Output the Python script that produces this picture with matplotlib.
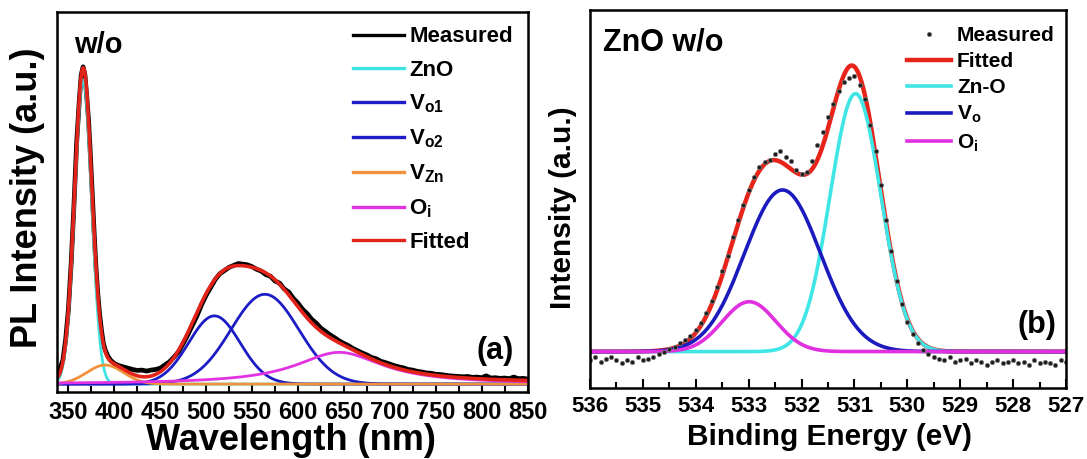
import numpy as np
import matplotlib
matplotlib.use("Agg")
import matplotlib.pyplot as plt
from matplotlib.ticker import MultipleLocator

plt.rcParams['font.family'] = ['Liberation Sans', 'DejaVu Sans']
plt.rcParams['font.weight'] = 'bold'
plt.rcParams['mathtext.fontset'] = 'custom'
plt.rcParams['mathtext.rm'] = 'Liberation Sans:bold'
plt.rcParams['mathtext.it'] = 'Liberation Sans:bold'
plt.rcParams['mathtext.bf'] = 'Liberation Sans:bold'

# ---- (a) PL spectrum (peak = 1) ----
pl_wl = [338, 341, 344, 347, 350, 353, 356, 359, 362, 364, 366, 368, 370, 372, 374,
         376, 378, 380, 382, 384, 386, 388, 390, 393, 396, 400, 405, 410, 415, 420,
         425, 430, 435, 440, 445, 450, 455, 460, 465, 470, 475, 480, 485, 490, 495,
         500, 505, 510, 515, 520, 525, 530, 535, 540, 545, 550, 555, 560, 565, 570,
         575, 580, 585, 590, 595, 600, 605, 610, 615, 620, 625, 630, 635, 640, 645,
         650, 655, 660, 665, 670, 675, 680, 685, 690, 695, 700, 705, 710, 715, 720,
         725, 730, 735, 740, 745, 750, 755, 760, 765, 770, 775, 780, 785, 790, 795,
         800, 805, 810, 815, 820, 825, 830, 835, 840, 845, 850]
pl_measured = [0.030, 0.050, 0.075, 0.140, 0.235, 0.380, 0.560, 0.760, 0.900, 0.975,
               1.000, 0.975, 0.905, 0.830, 0.720, 0.600, 0.480, 0.370, 0.285, 0.220,
               0.170, 0.130, 0.108, 0.088, 0.075, 0.065, 0.058, 0.054, 0.050, 0.046,
               0.043, 0.044, 0.041, 0.044, 0.046, 0.050, 0.060, 0.070, 0.085, 0.102,
               0.128, 0.155, 0.185, 0.215, 0.250, 0.280, 0.305, 0.330, 0.348, 0.358,
               0.368, 0.374, 0.380, 0.378, 0.376, 0.370, 0.362, 0.356, 0.345, 0.340,
               0.325, 0.318, 0.300, 0.290, 0.270, 0.255, 0.236, 0.222, 0.204, 0.192,
               0.176, 0.166, 0.155, 0.146, 0.136, 0.128, 0.121, 0.112, 0.105, 0.098,
               0.092, 0.084, 0.080, 0.072, 0.068, 0.063, 0.058, 0.054, 0.051, 0.046,
               0.044, 0.040, 0.038, 0.035, 0.034, 0.031, 0.030, 0.028, 0.026, 0.025,
               0.024, 0.023, 0.024, 0.021, 0.022, 0.020, 0.026, 0.019, 0.020, 0.018,
               0.019, 0.017, 0.022, 0.017, 0.018, 0.016]

pl_names = ['ZnO', 'V$_{o1}$', 'V$_{o2}$', 'V$_{Zn}$', 'O$_{i}$']
pl_centers = [366, 509, 564, 390, 645]
pl_heights = [0.96, 0.215, 0.283, 0.06, 0.10]
pl_widths = [9.3, 28, 37, 20, 58]
pl_shapes = ['gauss', 'gauss', 'gauss', 'gauss', 'lorentz']
pl_colors = ['#3fe3e3', '#1d1dc6', '#1d1dc6', '#f0923c', '#e233e2']
pl_offset = 0.004

# ---- (b) O 1s XPS (fit peak = 1) ----
xps_be = [536.0, 535.9, 535.8, 535.7, 535.6, 535.5, 535.4, 535.3, 535.2, 535.1,
          535.0, 534.9, 534.8, 534.7, 534.6, 534.5, 534.4, 534.3, 534.2, 534.1,
          534.0, 533.9, 533.8, 533.7, 533.6, 533.5, 533.4, 533.3, 533.2, 533.1,
          533.0, 532.9, 532.8, 532.7, 532.6, 532.5, 532.4, 532.3, 532.2, 532.1,
          532.0, 531.9, 531.8, 531.7, 531.6, 531.5, 531.4, 531.3, 531.2, 531.1,
          531.0, 530.9, 530.8, 530.7, 530.6, 530.5, 530.4, 530.3, 530.2, 530.1,
          530.0, 529.9, 529.8, 529.7, 529.6, 529.5, 529.4, 529.3, 529.2, 529.1,
          529.0, 528.9, 528.8, 528.7, 528.6, 528.5, 528.4, 528.3, 528.2, 528.1,
          528.0, 527.9, 527.8, 527.7, 527.6, 527.5, 527.4, 527.3, 527.2, 527.1, 527.0]
xps_measured = [-0.030, -0.020, -0.035, -0.025, -0.020, -0.030, -0.040, -0.030, -0.035, -0.020,
                -0.030, -0.025, -0.020, -0.010, 0.000, 0.010, 0.015, 0.030, 0.040, 0.055,
                0.075, 0.100, 0.135, 0.175, 0.225, 0.280, 0.335, 0.400, 0.460, 0.510,
                0.565, 0.610, 0.645, 0.660, 0.670, 0.690, 0.700, 0.680, 0.665, 0.635,
                0.620, 0.625, 0.665, 0.720, 0.765, 0.820, 0.865, 0.910, 0.940, 0.955,
                0.960, 0.930, 0.880, 0.790, 0.700, 0.580, 0.460, 0.350, 0.245, 0.165,
                0.105, 0.060, 0.030, 0.005, -0.010, -0.020, -0.025, -0.030, -0.020, -0.035,
                -0.030, -0.025, -0.040, -0.030, -0.035, -0.045, -0.035, -0.030, -0.040, -0.035,
                -0.030, -0.040, -0.035, -0.045, -0.030, -0.040, -0.035, -0.040, -0.045, -0.030, -0.035]

xps_names = ['Zn-O', 'V$_o$', 'O$_i$']
xps_centers = [530.98, 532.36, 532.99]
xps_heights = [0.90, 0.564, 0.174]
xps_widths = [0.48, 0.72, 0.505]
xps_colors = ['#40e6e6', '#1a1abf', '#e030e0']


def peak(x, c, a, w, shape='gauss'):
    if shape == 'lorentz':
        return a * w ** 2 / ((x - c) ** 2 + w ** 2)
    return a * np.exp(-(x - c) ** 2 / (2 * w ** 2))


def style_axis(ax, labelsize, pad):
    for sp in ax.spines.values():
        sp.set_linewidth(1.8)
    ax.set_yticks([])
    ax.tick_params(axis='x', which='major', direction='in', length=6.5, width=1.5,
                   labelsize=labelsize, pad=pad, top=False)
    ax.tick_params(axis='x', which='minor', direction='in', length=4, width=1.5, top=False)


fig = plt.figure(figsize=(10.87, 4.59), dpi=100)

# ---------- panel (a) ----------
ax1 = fig.add_axes([57 / 1087, 1 - 392 / 459, 471 / 1087, 380 / 459])
x1 = np.linspace(337, 852, 1200)
ax1.plot(pl_wl, pl_measured, color='black', lw=3.4, label='Measured')
total1 = np.full_like(x1, pl_offset)
for name, c, a, w, s, col in zip(pl_names, pl_centers, pl_heights, pl_widths, pl_shapes, pl_colors):
    y = peak(x1, c, a, w, s)
    total1 += y
    ax1.plot(x1, y, color=col, lw=2.0, label=name)
ax1.plot(x1, total1, color='#e2231a', lw=2.6, label='Fitted')

ax1.set_xlim(337.6, 850.5)
ax1.set_ylim(-0.025, 1.173)
ax1.xaxis.set_major_locator(MultipleLocator(50))
ax1.xaxis.set_minor_locator(MultipleLocator(25))
style_axis(ax1, 17, 6.5)
ax1.set_xlabel('Wavelength (nm)', fontsize=26, fontweight='bold')
ax1.xaxis.set_label_coords(0.497, -0.082)
ax1.set_ylabel('PL Intensity (a.u.)', fontsize=26, fontweight='bold')
ax1.yaxis.set_label_coords(-0.025, 0.51)
ax1.text(0.036, 0.913, 'w/o', transform=ax1.transAxes, fontsize=21, fontweight='bold',
         va='center', ha='left')
ax1.text(0.93, 0.108, '(a)', transform=ax1.transAxes, fontsize=22, fontweight='bold',
         va='center', ha='center')
leg1 = ax1.legend(loc='upper left', bbox_to_anchor=(0.628, 0.962), frameon=False, fontsize=16,
                  handlelength=2.3, handletextpad=0.25, labelspacing=0.55, borderpad=0,
                  borderaxespad=0)
for ln in leg1.get_lines():
    ln.set_linewidth(2.4)

# ---------- panel (b) ----------
ax2 = fig.add_axes([590 / 1087, 1 - 388 / 459, 476 / 1087, 378 / 459])
x2 = np.linspace(526.8, 536.2, 1200)
total2 = np.zeros_like(x2)
comps = []
for name, c, a, w, col in zip(xps_names, xps_centers, xps_heights, xps_widths, xps_colors):
    y = peak(x2, c, a, w)
    total2 += y
    comps.append((y, col, name))
h_fit, = ax2.plot(x2, total2, color='#e8231a', lw=3.2, label='Fitted')
h_comp = []
for y, col, name in comps:
    h, = ax2.plot(x2, y, color=col, lw=2.6, label=name)
    h_comp.append(h)
h_meas, = ax2.plot(xps_be, xps_measured, ls='none', marker='o', ms=3.0, color='#1a1a1a',
                   markeredgecolor='#777777', markeredgewidth=0.6, label='Measured')

ax2.set_xlim(536, 527)
ax2.set_ylim(-0.127, 1.192)
ax2.xaxis.set_major_locator(MultipleLocator(1))
ax2.xaxis.set_minor_locator(MultipleLocator(0.5))
style_axis(ax2, 16, 6)
ax2.set_xlabel('Binding Energy (eV)', fontsize=21.5, fontweight='bold')
ax2.xaxis.set_label_coords(0.503, -0.093)
ax2.set_ylabel('Intensity (a.u.)', fontsize=21.5, fontweight='bold')
ax2.yaxis.set_label_coords(-0.027, 0.4775)
ax2.text(0.027, 0.913, 'ZnO w/o', transform=ax2.transAxes, fontsize=22, fontweight='bold',
         va='center', ha='left')
ax2.text(0.939, 0.167, '(b)', transform=ax2.transAxes, fontsize=22, fontweight='bold',
         va='center', ha='center')
ax2.legend([h_meas, h_fit] + h_comp, ['Measured', 'Fitted'] + xps_names,
           loc='upper left', bbox_to_anchor=(0.666, 0.958), frameon=False, fontsize=15,
           handlelength=2.1, handletextpad=0.3, labelspacing=0.34, borderpad=0,
           borderaxespad=0, numpoints=1, markerscale=1.0)

fig.savefig('out.png', dpi=100)
